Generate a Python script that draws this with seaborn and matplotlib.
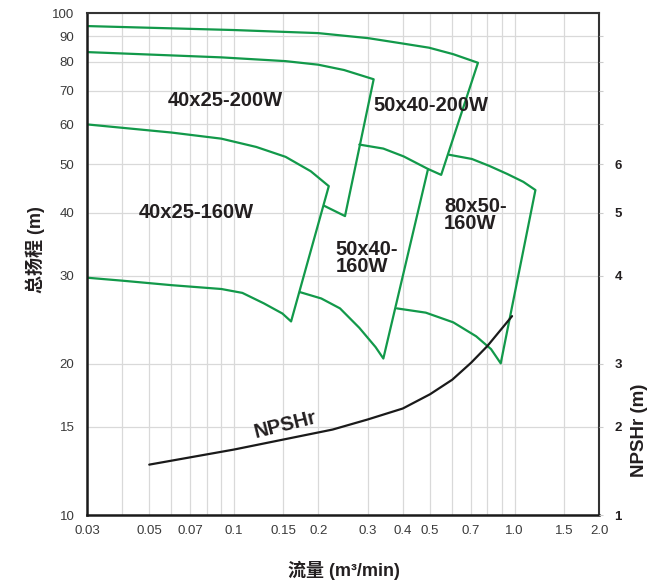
"""
Pump range chart (head vs flow) with NPSHr curve
"""

import matplotlib

matplotlib.use("Agg")
import matplotlib.pyplot as plt
import seaborn as sns

# pump model outlines (flow in m3/min, head in m): top curve -> right edge -> lower curve
q_50x40_200 = [0.03, 0.1, 0.2, 0.302, 0.397, 0.496, 0.605, 0.741, 0.548, 0.492]
h_50x40_200 = [94.2, 92.5, 91.2, 89.1, 87.0, 85.3, 82.8, 79.6, 47.6, 48.9]

q_40x25_200 = [0.03, 0.0903, 0.153, 0.2, 0.247, 0.315, 0.249, 0.210]
h_40x25_200 = [83.6, 81.6, 80.2, 78.9, 77.0, 73.8, 39.4, 41.3]

q_40x25_160 = [0.03, 0.06, 0.0903, 0.1203, 0.153, 0.188, 0.218,
               0.160, 0.149, 0.128, 0.1073, 0.0903, 0.06, 0.04, 0.03]
h_40x25_160 = [60, 57.8, 56.2, 54.1, 51.7, 48.4, 45.2,
               24.3, 25.2, 26.4, 27.7, 28.2, 28.7, 29.3, 29.7]

q_50x40_160 = [0.280, 0.341, 0.403, 0.492, 0.341, 0.320, 0.280, 0.239, 0.205, 0.172]
h_50x40_160 = [54.7, 53.7, 51.8, 48.9, 20.5, 21.6, 23.6, 25.8, 27.0, 27.8]

q_80x50_160 = [0.585, 0.705, 0.813, 0.942, 1.075, 1.187, 0.893, 0.825, 0.730, 0.605, 0.483, 0.381]
h_80x50_160 = [52.2, 51.2, 49.6, 47.8, 46.1, 44.4, 20.05, 21.4, 22.7, 24.2, 25.3, 25.8]

# NPSHr curve, drawn against the head scale
q_npshr = [0.05, 0.1, 0.225, 0.3, 0.4, 0.5, 0.6, 0.7, 0.8, 0.98]
h_npshr = [12.6, 13.5, 14.8, 15.5, 16.3, 17.4, 18.6, 20.1, 21.7, 24.9]

x_grid = [0.03, 0.04, 0.05, 0.06, 0.07, 0.08, 0.09, 0.1, 0.15, 0.2, 0.3, 0.4, 0.5, 0.6, 0.7, 0.8, 0.9, 1.0, 1.5, 2.0]
x_labels = ["0.03", "", "0.05", "", "0.07", "", "", "0.1", "0.15", "0.2", "0.3", "0.4", "0.5", "", "0.7", "", "", "1.0", "1.5", "2.0"]
y_ticks = [10, 15, 20, 30, 40, 50, 60, 70, 80, 90, 100]
npshr_pos = [10, 15, 20, 30, 40, 50]
npshr_labels = ["1", "2", "3", "4", "5", "6"]

GREEN = "#12994a"
TEXT = "#231f20"

sns.set_style("white")
plt.rcParams["font.family"] = ["Liberation Sans", "Noto Sans CJK SC", "DejaVu Sans"]

fig = plt.figure(figsize=(6.65, 5.82), dpi=100)
ax = fig.add_axes([0.1308, 0.1151, 0.7700, 0.8625])

outlines = [
    (q_50x40_200, h_50x40_200),
    (q_40x25_200, h_40x25_200),
    (q_40x25_160, h_40x25_160),
    (q_50x40_160, h_50x40_160),
    (q_80x50_160, h_80x50_160),
]
for q, h in outlines:
    sns.lineplot(x=q, y=h, sort=False, estimator=None, color=GREEN, lw=1.6, ax=ax)

sns.lineplot(x=q_npshr, y=h_npshr, sort=False, estimator=None, color="#1a1a1a", lw=1.6, ax=ax)

ax.set_xscale("log")
ax.set_yscale("log")
ax.set_xlim(0.03, 2.0)
ax.set_ylim(10, 100)
ax.set_xticks(x_grid)
ax.set_xticklabels(x_labels)
ax.set_yticks(y_ticks)
ax.set_yticklabels([str(v) for v in y_ticks])
ax.minorticks_off()
ax.tick_params(axis="x", length=0, pad=7, labelsize=9.5, labelcolor="#3a3a3a")
ax.tick_params(axis="y", length=0, pad=9, labelsize=9.5, labelcolor="#3a3a3a")
ax.grid(True, color="#d9d9d9", lw=0.9)
ax.set_xlabel("")
ax.set_ylabel("")

for side in ["left", "bottom"]:
    ax.spines[side].set_color("#1a1a1a")
    ax.spines[side].set_linewidth(1.8)
for side in ["top", "right"]:
    ax.spines[side].set_color("#333333")
    ax.spines[side].set_linewidth(1.5)

# right NPSHr axis
ax2 = ax.twinx()
ax2.set_yscale("log")
ax2.set_ylim(10, 100)
ax2.set_yticks(npshr_pos + [60, 70, 80, 90])
ax2.set_yticklabels(npshr_labels + ["", "", "", ""])
ax2.minorticks_off()
ax2.tick_params(axis="y", length=3, color="#cccccc", pad=8, labelsize=9.5, labelcolor=TEXT)
for lab in ax2.get_yticklabels():
    lab.set_fontweight("bold")
for side in ax2.spines:
    ax2.spines[side].set_visible(False)
ax2.grid(False)

# model labels
label_kw = dict(fontsize=14.5, fontweight="bold", color=TEXT)
ax.text(0.093, 67.1, "40x25-200W", ha="center", va="center", **label_kw)
ax.text(0.0737, 40.1, "40x25-160W", ha="center", va="center", **label_kw)
ax.text(0.505, 65.3, "50x40-200W", ha="center", va="center", **label_kw)
ax.text(0.230, 32.5, "50x40-\n160W", ha="left", va="center", linespacing=0.85, **label_kw)
ax.text(0.561, 39.6, "80x50-\n160W", ha="left", va="center", linespacing=0.85, **label_kw)
ax.text(0.153, 15.15, "NPSHr", ha="center", va="center", rotation=14, **label_kw)

# axis titles
fig.text(344 / 665, 1 - 570 / 582, "流量 (m³/min)", ha="center", va="center",
         fontsize=13, fontweight="bold", color=TEXT)
fig.text(35 / 665, 1 - 250 / 582, "总扬程 (m)", ha="center", va="center", rotation=90,
         fontsize=13, fontweight="bold", color=TEXT)
fig.text(640 / 665, 1 - 430 / 582, "NPSHr (m)", ha="center", va="center", rotation=90,
         fontsize=13.5, fontweight="bold", color=TEXT)

fig.savefig("out.png", dpi=100)
